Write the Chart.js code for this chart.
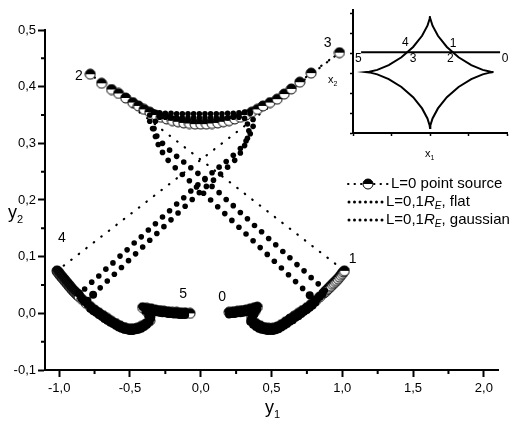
<!DOCTYPE html>
<html>
<head>
<meta charset="utf-8">
<script src="https://cdn.jsdelivr.net/npm/chart.js@4.4.0/dist/chart.umd.min.js"></script>
<style>
  body { margin: 0; background: #fff; }
  #wrap { position: relative; width: 517px; height: 432px; }
  #main { position: absolute; left: 0; top: 0; }
  #inset { position: absolute; left: 320px; top: 0; }
</style>
</head>
<body>
<div id="wrap">
  <canvas id="main" width="517" height="432"></canvas>
  <canvas id="inset" width="197" height="170"></canvas>
</div>
<script>
// ticks
var xTickVals = [-1.0, -0.5, 0.0, 0.5, 1.0, 1.5, 2.0];
var xMinorVals = [-0.75, -0.25, 0.25, 0.75, 1.25, 1.75];
var yTickVals = [-0.1, 0.0, 0.1, 0.2, 0.3, 0.4, 0.5];
var yMinorVals = [-0.05, 0.05, 0.15, 0.25, 0.35, 0.45];

// L=0 point source : 0 -> 1 , jump , 2 -> 3 , jump , 4 -> 5
var pointSource = [
  [0.20,0.002],[0.23,0.003],[0.26,0.004],[0.29,0.005],[0.32,0.006],[0.35,0.008],[0.38,0.010],[0.40,0.011],
  [0.38,0.003],[0.36,-0.005],[0.36,-0.012],[0.39,-0.018],[0.42,-0.022],[0.45,-0.025],[0.48,-0.026],[0.51,-0.026],
  [0.54,-0.024],[0.57,-0.020],[0.60,-0.015],[0.63,-0.010],[0.66,-0.005],[0.69,0.000],[0.72,0.005],[0.75,0.010],
  [0.78,0.016],[0.81,0.022],[0.84,0.029],[0.87,0.036],[0.88,0.038],[0.89,0.041],[0.90,0.043],[0.91,0.046],
  [0.92,0.048],[0.93,0.051],[0.94,0.053],[0.95,0.056],[0.96,0.058],[0.97,0.061],[0.98,0.064],[0.99,0.067],
  [1.00,0.070],[1.008,0.073],[1.015,0.075],
  [-0.78,0.422],[-0.70,0.406],[-0.63,0.395],[-0.58,0.388],[-0.53,0.380],[-0.48,0.372],[-0.44,0.366],[-0.40,0.360],
  [-0.36,0.355],[-0.32,0.350],[-0.28,0.346],[-0.24,0.343],[-0.20,0.340],[-0.16,0.338],[-0.12,0.336],[-0.08,0.335],
  [-0.04,0.334],[0.00,0.334],[0.04,0.334],[0.08,0.335],[0.12,0.336],[0.16,0.338],[0.20,0.340],[0.24,0.343],
  [0.28,0.346],[0.32,0.350],[0.36,0.355],[0.40,0.360],[0.44,0.366],[0.49,0.372],[0.54,0.378],[0.59,0.387],
  [0.64,0.396],[0.70,0.408],[0.78,0.424],[0.98,0.460],
  [-1.015,0.075],[-1.010,0.0735],[-1.005,0.072],[-1.000,0.070],[-0.995,0.0685],[-0.990,0.067],[-0.985,0.0655],[-0.980,0.064],
  [-0.975,0.0625],[-0.970,0.061],[-0.965,0.0595],[-0.960,0.058],[-0.955,0.0565],[-0.950,0.055],[-0.945,0.0535],[-0.940,0.052],
  [-0.935,0.0505],[-0.930,0.049],[-0.925,0.0475],[-0.920,0.046],[-0.915,0.0445],[-0.910,0.043],[-0.905,0.0415],[-0.900,0.040],
  [-0.895,0.039],[-0.890,0.038],[-0.885,0.0365],[-0.880,0.035],[-0.875,0.034],[-0.870,0.033],[-0.865,0.0315],[-0.860,0.030],
  [-0.84,0.025],[-0.81,0.018],[-0.78,0.012],[-0.75,0.006],[-0.72,0.001],[-0.69,-0.004],[-0.66,-0.009],
  [-0.63,-0.014],[-0.60,-0.018],[-0.57,-0.022],[-0.54,-0.025],[-0.51,-0.027],[-0.48,-0.027],[-0.45,-0.026],[-0.42,-0.023],
  [-0.39,-0.019],[-0.36,-0.013],[-0.36,-0.005],[-0.38,0.003],[-0.41,0.010],[-0.38,0.009],[-0.35,0.008],[-0.32,0.006],
  [-0.29,0.005],[-0.26,0.004],[-0.23,0.003],[-0.20,0.002],[-0.17,0.002],[-0.14,0.001],[-0.11,0.001],[-0.075,0.000]
];

// L=0,1 R_E flat source
var flatSource = [
  [0.20,0.002],[0.22,0.003],[0.24,0.003],[0.26,0.004],[0.28,0.004],[0.30,0.005],[0.32,0.006],[0.34,0.007],
  [0.36,0.008],[0.38,0.010],[0.40,0.012],[0.39,0.004],[0.37,-0.004],[0.36,-0.011],[0.38,-0.016],[0.40,-0.019],
  [0.42,-0.022],[0.44,-0.024],[0.46,-0.025],[0.48,-0.026],[0.50,-0.026],[0.52,-0.025],[0.54,-0.024],[0.56,-0.022],
  [0.58,-0.019],[0.60,-0.016],[0.62,-0.012],[0.64,-0.009],[0.66,-0.006],[0.68,-0.002],[0.70,0.002],[0.72,0.005],
  [0.74,0.009],[0.76,0.012],[0.78,0.016],[0.80,0.020],[0.82,0.025],[0.84,0.029],[0.86,0.034],[0.88,0.040],
  [0.83,0.052],[0.78,0.063],[0.73,0.075],[0.68,0.086],[0.63,0.098],[0.58,0.109],[0.53,0.121],[0.48,0.132],
  [0.43,0.144],[0.38,0.155],[0.33,0.167],[0.28,0.178],[0.23,0.190],[0.18,0.201],[0.13,0.213],[0.08,0.224],
  [0.03,0.236],[-0.02,0.247],[-0.07,0.257],[-0.12,0.267],[-0.17,0.277],[-0.22,0.288],[-0.27,0.300],[-0.31,0.313],
  [-0.34,0.326],[-0.36,0.339],[-0.36,0.350],[-0.33,0.355],[-0.29,0.354],[-0.25,0.353],[-0.21,0.353],[-0.17,0.352],
  [-0.13,0.352],[-0.09,0.352],[-0.05,0.352],[-0.01,0.352],[0.03,0.352],[0.07,0.352],[0.11,0.352],[0.15,0.352],
  [0.19,0.353],[0.23,0.353],[0.27,0.354],[0.31,0.355],[0.35,0.353],[0.37,0.342],[0.37,0.330],[0.35,0.317],
  [0.32,0.304],[0.28,0.291],[0.23,0.279],[0.18,0.268],[0.13,0.258],[0.08,0.248],[0.03,0.238],[-0.02,0.227],
  [-0.07,0.216],[-0.12,0.204],[-0.17,0.193],[-0.22,0.181],[-0.27,0.170],[-0.32,0.158],[-0.37,0.147],[-0.42,0.135],
  [-0.47,0.124],[-0.52,0.112],[-0.57,0.101],[-0.62,0.089],[-0.67,0.078],[-0.72,0.066],[-0.77,0.055],[-0.82,0.043],
  [-0.86,0.035],[-0.84,0.025],[-0.82,0.020],[-0.80,0.016],[-0.78,0.012],[-0.76,0.008],[-0.74,0.005],[-0.72,0.001],
  [-0.70,-0.002],[-0.68,-0.006],[-0.66,-0.009],[-0.64,-0.012],[-0.62,-0.015],[-0.60,-0.018],[-0.58,-0.021],[-0.56,-0.023],
  [-0.54,-0.025],[-0.52,-0.026],[-0.50,-0.027],[-0.48,-0.027],[-0.46,-0.026],[-0.44,-0.025],[-0.42,-0.023],[-0.40,-0.020],
  [-0.38,-0.016],[-0.36,-0.011],[-0.37,-0.004],[-0.39,0.004],[-0.41,0.011],[-0.39,0.010],[-0.37,0.009],[-0.35,0.008],
  [-0.33,0.007],[-0.31,0.006],[-0.29,0.005],[-0.27,0.004],[-0.25,0.004],[-0.23,0.003],[-0.21,0.003],[-0.19,0.002],
  [-0.17,0.002],[-0.15,0.001],[-0.13,0.001],[-0.11,0.001]
];

// L=0,1 R_E gaussian source
var gaussSource = [
  [0.20,-0.002],[0.22,-0.001],[0.24,-0.001],[0.26,0.000],[0.28,0.000],[0.30,0.001],[0.32,0.002],[0.34,0.003],
  [0.36,0.004],[0.38,0.006],[0.40,0.008],[0.38,-0.001],[0.36,-0.008],[0.35,-0.015],[0.37,-0.020],[0.39,-0.024],
  [0.41,-0.027],[0.43,-0.029],[0.45,-0.030],[0.47,-0.031],[0.49,-0.031],[0.51,-0.031],[0.53,-0.030],[0.55,-0.028],
  [0.57,-0.025],[0.59,-0.022],[0.61,-0.019],[0.63,-0.015],[0.65,-0.012],[0.67,-0.008],[0.69,-0.005],[0.71,-0.001],
  [0.73,0.003],[0.75,0.006],[0.77,0.010],[0.79,0.014],[0.81,0.019],
  [0.77,0.032],[0.72,0.044],[0.67,0.056],[0.62,0.068],[0.57,0.080],[0.52,0.092],[0.47,0.104],[0.42,0.116],
  [0.37,0.128],[0.32,0.140],[0.27,0.152],[0.22,0.164],[0.17,0.176],[0.12,0.188],[0.07,0.200],[0.02,0.212],
  [-0.03,0.223],[-0.08,0.234],[-0.13,0.245],[-0.18,0.257],[-0.23,0.270],[-0.27,0.284],[-0.30,0.298],[-0.32,0.312],
  [-0.33,0.326],[-0.32,0.339],[-0.29,0.346],[-0.25,0.346],[-0.21,0.345],[-0.17,0.345],[-0.13,0.345],[-0.09,0.345],
  [-0.05,0.345],[-0.01,0.345],[0.03,0.345],[0.07,0.345],[0.11,0.345],[0.15,0.345],[0.19,0.345],[0.23,0.346],
  [0.27,0.346],[0.31,0.344],[0.33,0.334],[0.34,0.322],[0.33,0.309],[0.31,0.296],[0.28,0.283],[0.24,0.270],
  [0.19,0.258],[0.14,0.246],[0.09,0.235],[0.04,0.224],[-0.01,0.213],[-0.06,0.201],[-0.11,0.189],[-0.16,0.177],
  [-0.21,0.165],[-0.26,0.153],[-0.31,0.141],[-0.36,0.129],[-0.41,0.117],[-0.46,0.105],[-0.51,0.093],[-0.56,0.081],
  [-0.61,0.069],[-0.66,0.057],[-0.71,0.045],[-0.76,0.033],[-0.80,0.022],
  [-0.78,0.008],[-0.76,0.004],[-0.74,0.001],[-0.72,-0.003],[-0.70,-0.006],[-0.68,-0.010],[-0.66,-0.013],[-0.64,-0.016],
  [-0.62,-0.019],[-0.60,-0.022],[-0.58,-0.025],[-0.56,-0.027],[-0.54,-0.029],[-0.52,-0.030],[-0.50,-0.031],[-0.48,-0.031],
  [-0.46,-0.030],[-0.44,-0.029],[-0.42,-0.027],[-0.40,-0.024],[-0.38,-0.020],[-0.36,-0.015],[-0.35,-0.008],[-0.37,0.000],
  [-0.39,0.007],[-0.37,0.005],[-0.35,0.004],[-0.33,0.003],[-0.31,0.002],[-0.29,0.001],[-0.27,0.000],[-0.25,0.000],
  [-0.23,-0.001],[-0.21,-0.001],[-0.19,-0.002],[-0.17,-0.002],[-0.15,-0.003],[-0.13,-0.003],[-0.11,-0.003]
];

var mainLabels = ['0', '1', '2', '3', '4', '5'];
var mainLabelPos = [[0.152,0.029],[1.073,0.096],[-0.86,0.419],[0.896,0.477],[-0.98,0.133],[-0.124,0.034]];

var legendNames = ['L=0 point source', 'L=0,1', 'L=0,1'];
var legendTails = ['', ', flat', ', gaussian'];

// inset: caustic (astroid) and source track
var insetXTicks = [0, 1, 2, 3, 4];
var insetYTicks = [-3, -2, -1, 0, 1, 2, 3];
var astroid = [
  [3.65,0.05],[3.576,0.065],[3.369,0.162],[3.072,0.4],[2.742,0.794],[2.438,1.309],[2.206,1.869],[2.066,2.373],[2.009,2.724],[2,2.85],
  [1.991,2.724],[1.934,2.373],[1.794,1.869],[1.562,1.309],[1.258,0.794],[0.928,0.4],[0.631,0.162],[0.424,0.065],[0.35,0.05],
  [0.424,0.035],[0.631,-0.062],[0.928,-0.3],[1.258,-0.694],[1.562,-1.209],[1.794,-1.769],[1.934,-2.273],[1.991,-2.624],[2,-2.75],
  [2.009,-2.624],[2.066,-2.273],[2.206,-1.769],[2.438,-1.209],[2.742,-0.694],[3.072,-0.3],[3.369,-0.062],[3.576,0.035],[3.65,0.05]
];
var track = [[0.21,1.05],[3.82,1.05]];
var insetLabels = ['0', '1', '2', '3', '4', '5'];
var insetLabelPos = [[3.95,0.71],[2.60,1.49],[2.53,0.71],[1.56,0.71],[1.36,1.54],[0.14,0.71]];

var FONT = '"Liberation Sans", Arial, sans-serif';

function xy(arr) {
  return arr.map(function(p){ return {x: p[0], y: p[1]}; });
}

function halfDisc(r) {
  var c = document.createElement('canvas');
  var s = 2 * r + 2;
  c.width = s; c.height = s;
  var g = c.getContext('2d');
  var m = s / 2;
  g.beginPath(); g.arc(m, m, r, 0, 2 * Math.PI); g.fillStyle = '#fff'; g.fill();
  g.beginPath(); g.arc(m, m, r, Math.PI, 2 * Math.PI); g.closePath(); g.fillStyle = '#000'; g.fill();
  g.beginPath(); g.arc(m, m, r, 0, 2 * Math.PI); g.lineWidth = 1; g.strokeStyle = '#000'; g.stroke();
  return c;
}
var marker = halfDisc(5);

// bigger dots where the extended-source images overlap on the lower arcs
function dotRadius(c) {
  return c.raw && c.raw.y < 0.036 ? 4 : 2.8;
}

function fmt(v) {
  return v.toFixed(1).replace('.', ',');
}

function subText(ctx, base, sub, x, y, size, subSize, italic) {
  ctx.font = (italic ? 'italic ' : '') + size + 'px ' + FONT;
  ctx.fillText(base, x, y);
  var w = ctx.measureText(base).width;
  ctx.font = (italic ? 'italic ' : '') + subSize + 'px ' + FONT;
  ctx.fillText(sub, x + w, y + size * 0.3);
  return w + ctx.measureText(sub).width;
}

var decorations = {
  id: 'decorations',
  afterDraw: function(chart) {
    var ctx = chart.ctx;
    var xs = chart.scales.x, ys = chart.scales.y;
    var area = chart.chartArea;
    ctx.save();
    // minor ticks
    ctx.strokeStyle = '#000';
    ctx.lineWidth = 2;
    ctx.beginPath();
    xMinorVals.forEach(function(v){
      var px = xs.getPixelForValue(v);
      ctx.moveTo(px, area.bottom); ctx.lineTo(px, area.bottom + 4);
    });
    yMinorVals.forEach(function(v){
      var py = ys.getPixelForValue(v);
      ctx.moveTo(area.left, py); ctx.lineTo(area.left - 4, py);
    });
    ctx.stroke();

    // point labels
    ctx.fillStyle = '#000';
    ctx.textAlign = 'center';
    ctx.textBaseline = 'middle';
    ctx.font = '14px ' + FONT;
    mainLabels.forEach(function(t, i){
      ctx.fillText(t, xs.getPixelForValue(mainLabelPos[i][0]), ys.getPixelForValue(mainLabelPos[i][1]));
    });

    // axis titles
    ctx.textAlign = 'left';
    ctx.textBaseline = 'alphabetic';
    subText(ctx, 'y', '1', 265, 413, 18, 11, false);
    subText(ctx, 'y', '2', 8, 218, 18, 11, false);

    // legend
    var lx = 346, rows = [184, 202, 220];
    ctx.lineWidth = 2;
    ctx.lineCap = 'round';
    ctx.setLineDash([0.5, 6]);
    ctx.beginPath(); ctx.moveTo(lx + 2, rows[0]); ctx.lineTo(lx + 42, rows[0]); ctx.stroke();
    ctx.setLineDash([]);
    ctx.drawImage(marker, 368 - marker.width / 2, rows[0] - marker.height / 2);
    for (var r = 1; r < 3; r++) {
      for (var k = 0; k < 7; k++) {
        ctx.beginPath(); ctx.arc(lx + 3 + k * 5.5, rows[r], 1.5, 0, 2 * Math.PI); ctx.fill();
      }
    }
    ctx.textBaseline = 'middle';
    ctx.font = '15px ' + FONT;
    ctx.fillText(legendNames[0], 391, rows[0]);
    for (var j = 1; j < 3; j++) {
      var x0 = 386;
      ctx.font = '15px ' + FONT;
      ctx.fillText(legendNames[j], x0, rows[j]);
      x0 += ctx.measureText(legendNames[j]).width;
      x0 += subText(ctx, 'R', 'E', x0, rows[j], 15, 10, true);
      ctx.font = '15px ' + FONT;
      ctx.fillText(legendTails[j], x0, rows[j]);
    }
    ctx.restore();
  }
};

new Chart(document.getElementById('main'), {
  type: 'scatter',
  data: {
    datasets: [
      { label: 'L=0,1R_E, flat', data: xy(flatSource), showLine: false,
        pointRadius: dotRadius, pointBackgroundColor: '#000', pointBorderWidth: 0 },
      { label: 'L=0,1R_E, gaussian', data: xy(gaussSource), showLine: false,
        pointRadius: dotRadius, pointBackgroundColor: '#000', pointBorderWidth: 0 },
      { label: 'L=0 point source', data: xy(pointSource), showLine: true,
        borderColor: '#000', borderWidth: 2.2, borderDash: [0.5, 9], borderCapStyle: 'round',
        tension: 0, pointStyle: marker, pointRadius: 5 }
    ]
  },
  options: {
    responsive: false,
    animation: false,
    events: [],
    layout: { padding: { top: 30, right: 19, left: 0, bottom: 0 } },
    plugins: { legend: { display: false }, tooltip: { enabled: false } },
    scales: {
      x: {
        type: 'linear', min: -1.1, max: 2.1,
        afterBuildTicks: function(s){ s.ticks = xTickVals.map(function(v){ return {value: v}; }); },
        afterFit: function(s){ s.height = 62; },
        grid: { drawOnChartArea: false, tickLength: 7, tickWidth: 2, tickColor: '#000' },
        border: { color: '#000', width: 2 },
        ticks: { color: '#000', padding: 4, font: { family: FONT, size: 13 },
          maxRotation: 0, callback: function(v){ return fmt(v); } }
      },
      y: {
        type: 'linear', min: -0.1, max: 0.5,
        afterBuildTicks: function(s){ s.ticks = yTickVals.map(function(v){ return {value: v}; }); },
        afterFit: function(s){ s.width = 45; },
        grid: { drawOnChartArea: false, tickLength: 7, tickWidth: 2, tickColor: '#000' },
        border: { color: '#000', width: 2 },
        ticks: { color: '#000', padding: 2, font: { family: FONT, size: 13 },
          callback: function(v){ return fmt(v); } }
      }
    }
  },
  plugins: [decorations]
});

var insetText = {
  id: 'insetText',
  afterDraw: function(chart) {
    var ctx = chart.ctx;
    var xs = chart.scales.x, ys = chart.scales.y;
    ctx.save();
    ctx.fillStyle = '#000';
    ctx.textAlign = 'center';
    ctx.textBaseline = 'middle';
    ctx.font = '12px ' + FONT;
    insetLabels.forEach(function(t, i){
      ctx.fillText(t, xs.getPixelForValue(insetLabelPos[i][0]), ys.getPixelForValue(insetLabelPos[i][1]));
    });
    ctx.textAlign = 'left';
    ctx.textBaseline = 'alphabetic';
    subText(ctx, 'x', '1', 105, 157, 11, 7, false);
    subText(ctx, 'x', '2', 8, 83, 11, 7, false);
    ctx.restore();
  }
};

new Chart(document.getElementById('inset'), {
  type: 'scatter',
  data: {
    datasets: [
      { data: xy(astroid), showLine: true, borderColor: '#000', borderWidth: 2, pointRadius: 0, tension: 0 },
      { data: xy(track), showLine: true, borderColor: '#000', borderWidth: 2, pointRadius: 0 }
    ]
  },
  options: {
    responsive: false,
    animation: false,
    events: [],
    layout: { padding: { top: 7, right: 10, left: 0, bottom: 0 } },
    plugins: { legend: { display: false }, tooltip: { enabled: false } },
    scales: {
      x: {
        type: 'linear', min: 0, max: 4,
        afterBuildTicks: function(s){ s.ticks = insetXTicks.map(function(v){ return {value: v}; }); },
        afterFit: function(s){ s.height = 37; },
        grid: { drawOnChartArea: false, tickLength: 3, tickWidth: 1.5, tickColor: '#000' },
        border: { color: '#000', width: 2 },
        ticks: { display: true, callback: function(){ return ''; } }
      },
      y: {
        type: 'linear', min: -3, max: 3.15,
        afterBuildTicks: function(s){ s.ticks = insetYTicks.map(function(v){ return {value: v}; }); },
        afterFit: function(s){ s.width = 33; },
        grid: { drawOnChartArea: false, tickLength: 3, tickWidth: 1.5, tickColor: '#000' },
        border: { color: '#000', width: 2 },
        ticks: { display: true, callback: function(){ return ''; } }
      }
    }
  },
  plugins: [insetText]
});
</script>
</body>
</html>
